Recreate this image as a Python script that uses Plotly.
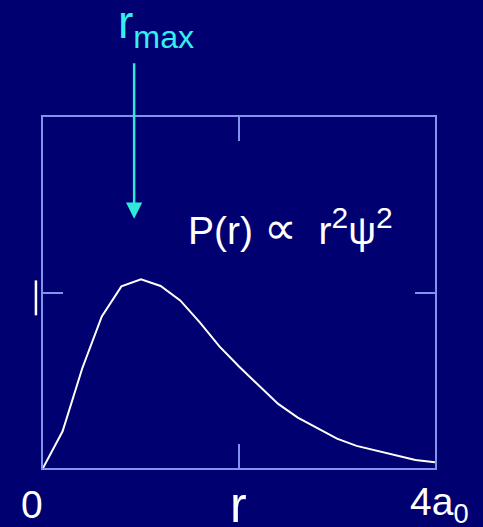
import plotly.graph_objects as go

# radius in units of a0 (0 .. 4a0, step 0.2)
r_vals = [0.0, 0.2, 0.4, 0.6, 0.8, 1.0, 1.2, 1.4, 1.6, 1.8, 2.0,
          2.2, 2.4, 2.6, 2.8, 3.0, 3.2, 3.4, 3.6, 3.8, 4.0]
# relative radial probability P(r)
p_vals = [0.000, 0.209, 0.567, 0.864, 1.035, 1.075, 1.037, 0.955, 0.830, 0.693, 0.578,
          0.470, 0.365, 0.287, 0.226, 0.167, 0.126, 0.099, 0.070, 0.046, 0.032]

r_max = 0.93
x_tick_vals = [2]
y_tick_vals = [1]
x_labels = [(-0.027, "0", 39), (0.4975, "r", 50), (1.012, "4a<sub>0</sub>", 39)]

BG = "#000070"
FRAME = "#8094ee"
ARROW = "#2ee8d8"
CYAN = "#33f0f0"
FONT = "Liberation Sans, Arial, sans-serif"

fig = go.Figure()
fig.add_trace(go.Scatter(x=r_vals, y=p_vals, mode="lines",
                         line=dict(color="white", width=2), hoverinfo="skip",
                         cliponaxis=False))

axis_common = dict(showgrid=False, zeroline=False, showline=True, linecolor=FRAME,
                   linewidth=2, mirror="ticks", ticks="inside", tickcolor=FRAME,
                   tickwidth=2, showticklabels=False, fixedrange=True)
fig.update_xaxes(range=[0, 4], tickvals=x_tick_vals, ticklen=24, **axis_common)
fig.update_yaxes(range=[0, 2], tickvals=y_tick_vals, ticklen=20, **axis_common)

annotations = []
for xv, txt, fs in x_labels:
    annotations.append(dict(x=xv, y=-0.105, xref="paper", yref="paper", text=txt,
                            showarrow=False, xanchor="center", yanchor="middle",
                            font=dict(family=FONT, size=fs, color="white")))
# r_max label
annotations.append(dict(x=0.287, y=1.26, xref="paper", yref="paper",
                        text="r<sub>max</sub>", showarrow=False,
                        xanchor="center", yanchor="middle",
                        font=dict(family=FONT, size=46, color=CYAN)))
# arrow
annotations.append(dict(x=r_max, y=1.42, xref="x", yref="y", text="",
                        showarrow=True, arrowhead=2, arrowsize=1.3, arrowwidth=2.5,
                        arrowcolor=ARROW, ax=0, ay=-157, standoff=0))
# formula
sup2 = "<sup><span style='font-size:30px'>2</span></sup>"
annotations.append(dict(x=0.365, y=0.686, xref="paper", yref="paper",
                        text="P(r) <span style='font-size:46px'>∝</span>\u00a0 r" + sup2 + "ψ" + sup2,
                        showarrow=False,
                        xanchor="left", yanchor="middle",
                        font=dict(family=FONT, size=39, color="white")))

fig.update_layout(
    width=483, height=527,
    margin=dict(l=43, r=48, t=117, b=59),
    paper_bgcolor=BG, plot_bgcolor=BG,
    showlegend=False,
    annotations=annotations,
    shapes=[dict(type="line", xref="paper", yref="y", x0=-0.018, x1=-0.018,
                 y0=0.87, y1=1.069, line=dict(color="white", width=2.5))],
)

fig.write_html("out.html", config={"displayModeBar": False},
               post_script="document.body.style.margin='0';document.body.style.padding='0';"
                           "document.body.style.background='" + BG + "';")
